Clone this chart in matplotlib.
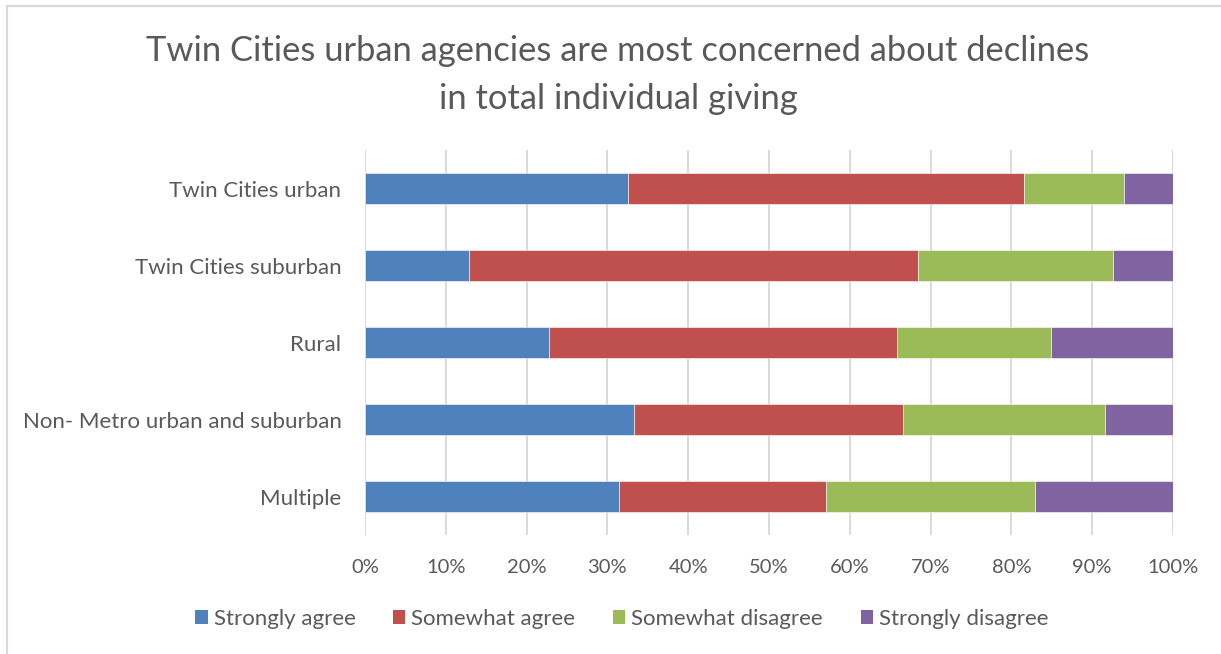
import numpy as np
import matplotlib.pyplot as plt
from matplotlib.patches import Patch
from matplotlib.lines import Line2D

regions = ['Twin Cities urban', 'Twin Cities suburban', 'Rural',
           'Non- Metro urban and suburban', 'Multiple']
strongly_agree = [32.6, 12.9, 22.8, 33.3, 31.4]
somewhat_agree = [49.0, 55.6, 43.0, 33.3, 25.7]
somewhat_disagree = [12.3, 24.1, 19.1, 25.0, 25.8]
strongly_disagree = [6.1, 7.4, 15.1, 8.4, 17.1]

series_names = ['Strongly agree', 'Somewhat agree', 'Somewhat disagree', 'Strongly disagree']
colors = ['#4F81BD', '#C0504D', '#9BBB59', '#8064A2']
txt = '#595959'

plt.rcParams['font.family'] = ['Lato', 'DejaVu Sans']

fig = plt.figure(figsize=(12.21, 6.54), dpi=100)
ax = fig.add_axes([365/1221, 1-535/654, (1173-365)/1221, (535-150)/654])

y = np.arange(len(regions))
left = np.zeros(len(regions))
for name, vals, c in zip(series_names,
                         [strongly_agree, somewhat_agree, somewhat_disagree, strongly_disagree],
                         colors):
    vals = np.array(vals)
    ax.barh(y, vals, left=left, height=0.39, color=c, edgecolor='white', linewidth=0.4)
    left = left + vals

ax.set_xlim(0, 100)
ax.set_ylim(len(regions)-0.5, -0.5)
ax.set_xticks(np.arange(0, 101, 10))
ax.set_xticklabels(['%d%%' % v for v in range(0, 101, 10)])
ax.set_yticks(y)
ax.set_yticklabels(regions)
ax.tick_params(axis='both', length=0, colors=txt)
ax.tick_params(axis='x', pad=17, labelsize=14.5)
ax.tick_params(axis='y', pad=17, labelsize=16)
ax.grid(axis='x', color='#D9D9D9', linewidth=1.4)
ax.set_axisbelow(True)
for s in ax.spines.values():
    s.set_visible(False)

fig.text(618/1221, 1-75/654, 'Twin Cities urban agencies are most concerned about declines\nin total individual giving',
         ha='center', va='center', fontsize=24.8, color=txt, linespacing=1.6)

handles = [Patch(facecolor=c, edgecolor='none') for c in colors]
fig.legend(handles, series_names, loc='center', bbox_to_anchor=(622/1221, 1-619/654),
           ncol=4, frameon=False, fontsize=16, labelcolor=txt,
           handlelength=0.55, handleheight=0.55, handletextpad=0.27, columnspacing=1.7)

# chart area frame
fig.add_artist(Line2D([7/1221, 7/1221], [0, 1-6/654], color='#D9D9D9', linewidth=1.5))
fig.add_artist(Line2D([7/1221, 1], [1-6/654, 1-6/654], color='#D9D9D9', linewidth=1.5))

fig.savefig('out.png', dpi=100, facecolor='white')
